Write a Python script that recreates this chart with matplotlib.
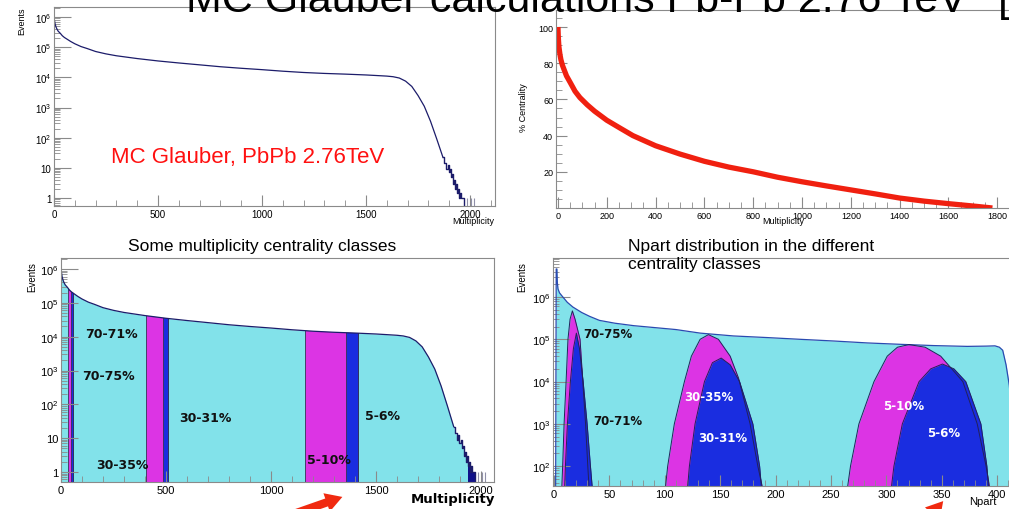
import numpy as np
import matplotlib
matplotlib.use("Agg")
import matplotlib.pyplot as plt
from matplotlib.ticker import FixedLocator, FixedFormatter, MultipleLocator, NullFormatter, LogLocator
from matplotlib.patches import FancyArrowPatch

plt.rcParams['font.family'] = ['Liberation Sans', 'DejaVu Sans']
plt.rcParams['mathtext.fontset'] = 'custom'
plt.rcParams['mathtext.rm'] = 'Liberation Sans'
plt.rcParams['mathtext.it'] = 'Liberation Sans'

# ---------------- data ----------------
# multiplicity distribution (events per multiplicity bin)
mult = [0, 2, 5, 10, 15, 20, 30, 40, 50, 60, 80, 100, 130, 160, 200, 250, 300, 400, 500,
        600, 700, 800, 900, 1000, 1100, 1200, 1300, 1400, 1500, 1550, 1600, 1630, 1660,
        1690, 1720, 1750, 1780, 1810, 1840, 1870, 1880, 1890, 1895, 1900, 1905, 1910, 1915,
        1920, 1925, 1930, 1935, 1940, 1945, 1950, 1955, 1960, 1965, 1970, 1975]
mult_events = [1.1e6, 8e5, 6e5, 4.6e5, 3.9e5, 3.4e5, 2.9e5, 2.4e5, 2.1e5, 1.9e5, 1.55e5,
               1.3e5, 1.05e5, 9e4, 7.2e4, 6e4, 5.2e4, 4.2e4, 3.5e4, 3.0e4, 2.6e4, 2.25e4,
               2.0e4, 1.8e4, 1.6e4, 1.45e4, 1.35e4, 1.28e4, 1.2e4, 1.15e4, 1.1e4, 1.05e4,
               9.5e3, 7.5e3, 5e3, 2.5e3, 1.1e3, 350, 90, 22, 14, 9, 12, 7, 9, 5, 6, 3,
               4, 2, 3, 1.5, 2, 1, 1.5, 1, 1, 1, 0.3]
tail_mult = [1987, 2003, 2019]
tail_events = [1, 1, 1]

# centrality vs multiplicity
cent_mult = [0, 1, 2, 4, 8, 12, 18, 25, 35, 50, 70, 90, 120, 150, 170, 200, 250, 307, 400,
             500, 600, 700, 800, 900, 1000, 1100, 1200, 1300, 1400, 1500, 1600, 1700, 1780]
cent_pct = [100, 96, 93, 89, 85, 82, 79, 76.5, 73, 69.4, 64.5, 61, 57, 53.5, 51.5, 48.5,
            44.5, 40, 34.4, 29.8, 25.8, 22.6, 20, 17, 14.5, 12.2, 10, 7.8, 5.5, 3.8, 2.4,
            1.1, 0]

# multiplicity centrality classes (multiplicity ranges)
class_names = ['70-75%', '70-71%', '30-35%', '30-31%', '5-10%', '5-6%']
class_lo = [35, 46, 407, 487, 1160, 1358]
class_hi = [55, 55, 510, 510, 1413, 1413]

# Npart distribution (all events)
npart = [1.5, 2, 2.6, 3, 3.6, 5, 8, 12, 17, 25, 32, 41, 55, 72, 90, 110, 132, 162, 192,
         222, 253, 283, 313, 343, 373, 390, 398, 402, 405, 408, 411, 414, 417]
npart_events = [30, 4.6e6, 4.6e6, 2.2e6, 1.55e6, 1.25e6, 1.0e6, 7.5e5, 5.8e5, 4.3e5, 3.5e5,
                2.8e5, 2.4e5, 2.1e5, 1.9e5, 1.7e5, 1.4e5, 1.2e5, 1.1e5, 1.0e5, 9.1e4, 8.2e4,
                7.6e4, 7.1e4, 6.8e4, 6.9e4, 7.0e4, 6.5e4, 5.5e4, 2.5e4, 8e3, 1e3, 30]

# Npart distributions in the classes
np_7075 = [7.0, 7.8, 9.1, 10.9, 12.6, 14.5, 16.6, 19, 23.5, 26, 28.5, 30.5, 31.7]
ev_7075 = [30, 100, 1e3, 1e4, 1e5, 3e5, 4.7e5, 3e5, 1e5, 1e4, 1e3, 100, 30]
np_7071 = [9.6, 10.3, 12.1, 14.8, 17.5, 20.2, 23, 26.3, 29.9, 32.9, 34.6]
ev_7071 = [30, 100, 1e3, 1e4, 6e4, 1.4e5, 6e4, 1e4, 1e3, 100, 30]
np_3035 = [100.5, 102.6, 108.6, 117.7, 124, 131.9, 139.4, 148.4, 159, 166.6, 177, 184, 188.3]
ev_3035 = [30, 100, 1e3, 1e4, 4e4, 1e5, 1.29e5, 1e5, 4e4, 1.2e4, 1e3, 100, 30]
np_3031 = [120.5, 122.2, 127.3, 135.8, 143, 150.9, 159, 167.5, 179.5, 185.6, 187.3]
ev_3031 = [30, 100, 1e3, 1e4, 2.8e4, 3.6e4, 2.5e4, 1e4, 1e3, 100, 30]
np_0510 = [264.8, 267.6, 275.2, 288.8, 300.8, 310, 320.4, 335, 349, 369, 382, 390, 393.3]
ev_0510 = [30, 100, 1e3, 1e4, 4e4, 6.5e4, 7.5e4, 6.5e4, 4e4, 1e4, 1e3, 100, 30]
np_0506 = [304.4, 306.8, 314.4, 329.5, 340, 350.6, 361, 371.7, 385.3, 390.7, 392.3]
ev_0506 = [30, 100, 1e3, 1e4, 2e4, 2.6e4, 2e4, 1e4, 1e3, 100, 30]

log_ticks = [1, 10, 100, 1e3, 1e4, 1e5, 1e6]
log_labels = ['1', '10', '$10^2$', '$10^3$', '$10^4$', '$10^5$', '$10^6$']

# ---------------- style ----------------
W, H = 1009, 510
CYAN = '#82E2EA'
MAG = '#DC34E4'
BLUE = '#1A2DE0'
NAVY = '#1C1C6A'
GRAY = '#8A8A8A'

fig = plt.figure(figsize=(W / 100, H / 100), dpi=100)
fig.patch.set_facecolor('white')


def rect(l, t, r, b):
    return [l / W, 1 - b / H, (r - l) / W, (b - t) / H]


def ftxt(x, y, s, **kw):
    return fig.text(x / W, 1 - y / H, s, **kw)


def style_axes(ax, lab=7):
    for sp in ax.spines.values():
        sp.set_color(GRAY)
        sp.set_linewidth(0.8)
    ax.tick_params(which='both', direction='in', color=GRAY, top=False, right=False,
                   labelsize=lab, pad=2)
    ax.tick_params(which='major', length=8, width=0.8)
    ax.tick_params(which='minor', length=4, width=0.6)


def log_y(ax, lab=7):
    ax.set_yscale('log')
    ax.yaxis.set_major_locator(FixedLocator(log_ticks))
    ax.yaxis.set_major_formatter(FixedFormatter(log_labels))
    ax.yaxis.set_minor_locator(LogLocator(base=10, subs=np.arange(2, 10)))
    ax.yaxis.set_minor_formatter(NullFormatter())
    ax.tick_params(axis='y', which='major', length=12)


m_arr = np.array(mult, dtype=float)
e_arr = np.array(mult_events, dtype=float)
smooth = m_arr <= 1870
noisy = m_arr >= 1870

# ---------------- title (partly out of frame) ----------------
ftxt(186, 11.5, 'MC Glauber calculations Pb-Pb 2.76 TeV', fontsize=31, ha='left', va='baseline')
ftxt(998, 11.5, '[', fontsize=31, ha='left', va='baseline')

# ---------------- panel 1 ----------------
ax1 = fig.add_axes(rect(54, 8, 495, 207))
style_axes(ax1)
log_y(ax1)
ax1.plot(m_arr[smooth], e_arr[smooth], color=NAVY, lw=0.9)
ax1.plot(m_arr[noisy], e_arr[noisy], color=NAVY, lw=1.0, drawstyle='steps-mid')
ax1.vlines(tail_mult, 0.3, tail_events, color='#9090A8', lw=0.8)
ax1.set_xlim(0, 2120)
ax1.set_ylim(10 ** (-8 / 30), 10 ** (6 + 10 / 30))
ax1.xaxis.set_major_locator(FixedLocator([0, 500, 1000, 1500, 2000]))
ax1.xaxis.set_minor_locator(MultipleLocator(100))
ftxt(111, 157, 'MC Glauber, PbPb 2.76TeV', color='#FF1010', fontsize=16, ha='left', va='center')
ftxt(494, 221, 'Multiplicity', fontsize=6.5, ha='right', va='center')
ftxt(22, 8, 'Events', fontsize=6.5, rotation=90, ha='center', va='top')

# ---------------- panel 2 ----------------
ax2 = fig.add_axes(rect(556, 11, 1030, 209))
style_axes(ax2, lab=6.5)
ax2.plot(cent_mult, cent_pct, color='#F02010', lw=3.8, solid_capstyle='butt')
ax2.set_xlim(-8, 1934)
ax2.set_ylim(0, 109.4)
ax2.yaxis.set_major_locator(FixedLocator([20, 40, 60, 80, 100]))
ax2.yaxis.set_minor_locator(MultipleLocator(5))
ax2.xaxis.set_major_locator(MultipleLocator(200))
ax2.xaxis.set_minor_locator(MultipleLocator(50))
ax2.spines['right'].set_visible(False)
ftxt(783, 222, 'Multiplicity', fontsize=6.5, ha='center', va='center')
ftxt(524, 108, '% Centrality', fontsize=6.5, rotation=90, ha='center', va='center')

# ---------------- panel 3 ----------------
ax3 = fig.add_axes(rect(61, 259, 494, 483))
style_axes(ax3, lab=8)
log_y(ax3, lab=8)
poly = ax3.fill_between(m_arr, e_arr, 1e-3, color=CYAN, lw=0)
clip_path = poly.get_paths()[0]
for i, (lo, hi) in enumerate(zip(class_lo, class_hi)):
    col = MAG if i % 2 == 0 else BLUE
    sp = ax3.axvspan(lo, hi, facecolor=col, edgecolor='#333355', lw=0.6)
    sp.set_clip_path(clip_path, transform=ax3.transData)
tail_sel = m_arr >= 1940
ax3.fill_between(m_arr[tail_sel], e_arr[tail_sel], 1e-3, step='mid', color='#10108A', lw=0)
ax3.plot(m_arr[smooth], e_arr[smooth], color=NAVY, lw=0.9)
ax3.plot(m_arr[noisy], e_arr[noisy], color=NAVY, lw=1.0, drawstyle='steps-mid')
ax3.vlines(tail_mult, 0.3, tail_events, color='#9090A8', lw=0.8)
ax3.set_xlim(0, 2062)
ax3.set_ylim(10 ** (-10 / 33.8), 10 ** (6 + 11 / 33.8))
ax3.xaxis.set_major_locator(FixedLocator([0, 500, 1000, 1500, 2000]))
ax3.xaxis.set_minor_locator(MultipleLocator(100))
ftxt(262, 247, 'Some multiplicity centrality classes', fontsize=12.5, ha='center', va='center')
ftxt(495, 500, 'Multiplicity', fontsize=9.5, fontweight='bold', family='DejaVu Sans',
     ha='right', va='center')
ftxt(32, 262, 'Events', fontsize=7, rotation=90, ha='center', va='top')
lab3 = [(85, 334, '70-71%'), (82, 376, '70-75%'), (179, 419, '30-31%'),
        (96, 466, '30-35%'), (307, 461, '5-10%'), (365, 417, '5-6%')]
for x, y, s in lab3:
    ftxt(x, y, s, fontsize=9, fontweight='bold', family='DejaVu Sans', color='#111111',
         ha='left', va='center')

# ---------------- panel 4 ----------------
ax4 = fig.add_axes(rect(553, 259, 1020, 487))
style_axes(ax4, lab=8)
log_y(ax4, lab=8)
ax4.fill_between(npart, npart_events, 1e-3, color=CYAN, lw=0)
ax4.plot(npart, npart_events, color='#2A4AB0', lw=0.9)
for xs, ys, col in [(np_7075, ev_7075, MAG), (np_7071, ev_7071, BLUE),
                    (np_3035, ev_3035, MAG), (np_3031, ev_3031, BLUE),
                    (np_0510, ev_0510, MAG), (np_0506, ev_0506, BLUE)]:
    ax4.fill_between(xs, ys, 1e-3, color=col, lw=0)
    ax4.plot(xs, ys, color='#22225A', lw=0.7)
ax4.set_xlim(-0.9, 420.6)
ax4.set_ylim(10 ** (6 - 189 / 42.3), 10 ** (6 + 39 / 42.3))
ax4.xaxis.set_major_locator(MultipleLocator(50))
ax4.xaxis.set_minor_locator(MultipleLocator(10))
ax4.spines['right'].set_visible(False)
ftxt(628, 247, 'Npart distribution in the different', fontsize=12.5, ha='left', va='center')
ftxt(628, 265, 'centrality classes', fontsize=12.5, ha='left', va='center')
ftxt(983, 502, 'Npart', fontsize=8, ha='center', va='center')
ftxt(522, 262, 'Events', fontsize=7, rotation=90, ha='center', va='top')
lab4 = [(583, 334, '70-75%', '#111111'), (593, 422, '70-71%', '#111111'),
        (684, 398, '30-35%', 'white'), (698, 439, '30-31%', 'white'),
        (883, 407, '5-10%', 'white'), (927, 434, '5-6%', 'white')]
for x, y, s, c in lab4:
    ftxt(x, y, s, fontsize=8.5, fontweight='bold', family='DejaVu Sans', color=c,
         ha='left', va='center')

# ---------------- red arrows (cut by the frame) ----------------
for (x0, y0, x1, y1) in [(285, 518, 345, 497), (915, 535, 945, 500)]:
    arr = FancyArrowPatch((x0 / W, 1 - y0 / H), (x1 / W, 1 - y1 / H), transform=fig.transFigure,
                          arrowstyle='simple,head_length=12,head_width=14,tail_width=6',
                          color='#F02A10', lw=0)
    fig.add_artist(arr)

fig.savefig('out.png', dpi=100)
